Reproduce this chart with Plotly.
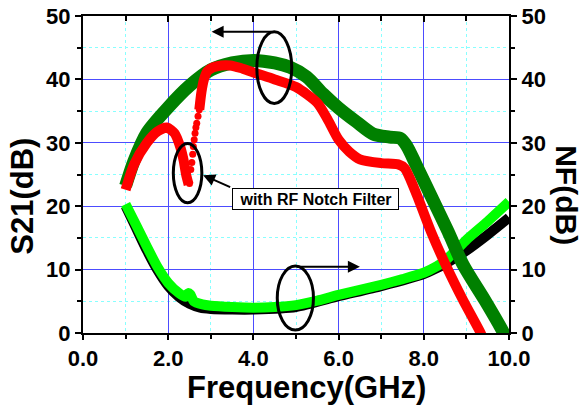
import plotly.graph_objects as go

# ---- data ----
# S21 without notch filter (dark green)
s21_freq = [1.0, 1.2, 1.5, 2.0, 2.5, 3.0, 3.5, 4.0, 4.5, 4.86, 5.25, 5.64, 6.0, 6.42, 6.81,
            7.2, 7.45, 7.6, 7.8, 8.0, 8.2, 8.57, 8.92, 9.43, 9.86, 9.95]
s21_db = [23.2, 27.2, 31.6, 35.6, 39.0, 41.5, 42.6, 43.0, 42.6, 41.9, 40.4, 37.7, 35.5, 33.3, 31.4,
          30.9, 30.7, 29.5, 26.8, 24.0, 21.2, 16.0, 10.8, 5.2, 0.2, -1.0]

# S21 with RF notch filter (red), left branch, notch dots, right branch
notch_freq_a = [1.0, 1.2, 1.5, 1.75, 1.97, 2.15, 2.28, 2.36, 2.42, 2.48]
notch_db_a = [22.6, 26.6, 30.0, 31.8, 32.4, 31.5, 29.4, 27.3, 25.0, 23.4]
notch_freq_dots = [2.50, 2.53, 2.555, 2.575, 2.59, 2.61, 2.63, 2.65, 2.67, 2.70, 2.73]
notch_db_dots = [23.6, 25.8, 26.9, 28.2, 29.4, 30.5, 31.5, 32.4, 33.1, 34.2, 35.2]
notch_freq_b = [2.73, 2.78, 2.84, 2.92, 3.05, 3.25, 3.45, 3.7, 4.0, 4.5, 5.0, 5.5, 5.75, 6.0,
                6.25, 6.5, 7.0, 7.4, 7.55, 7.7, 7.87, 8.18, 8.53, 8.92, 9.32, 9.4]
notch_db_b = [35.2, 38.0, 40.0, 41.3, 41.9, 42.2, 42.2, 41.8, 41.1, 40.0, 38.8, 36.3, 33.6, 30.5,
              28.6, 27.4, 26.8, 26.6, 26.0, 24.0, 21.2, 15.8, 10.5, 5.2, 0.2, -1.0]

# NF without notch filter (black)
nf_freq = [1.0, 1.25, 1.5, 1.75, 2.0, 2.25, 2.5, 2.75, 3.0, 3.5, 4.0, 5.0, 6.0, 7.0, 8.0,
           8.3, 8.5, 9.0, 9.5, 10.0]
nf_db = [20.0, 16.5, 13.0, 9.9, 7.4, 5.7, 4.6, 4.0, 3.8, 3.7, 3.7, 4.1, 5.8, 7.4, 9.3,
         10.2, 10.9, 13.0, 15.5, 18.2]

# NF with notch filter (light green)
nf_notch_freq = [1.0, 1.25, 1.5, 1.75, 2.0, 2.25, 2.4, 2.47, 2.52, 2.6, 2.8, 3.0, 3.5, 4.0,
                 4.5, 5.0, 5.5, 6.0, 6.5, 7.0, 7.5, 8.0, 8.3, 8.5, 8.75, 9.0, 9.5, 10.0]
nf_notch_db = [20.3, 17.0, 13.6, 10.4, 7.9, 6.3, 5.7, 6.3, 6.1, 5.0, 4.5, 4.3, 4.1, 4.0,
               4.1, 4.4, 5.1, 6.0, 6.8, 7.6, 8.5, 9.5, 10.5, 11.4, 13.0, 14.7, 17.6, 20.7]

FONT = "Arial, Liberation Sans, sans-serif"
MAJ_GRID = "#4c4cff"
MIN_GRID = "#88ffff"

fig = go.Figure()

# invisible trace so the top/right frame axes exist
fig.add_trace(go.Scatter(x=[None], y=[None], xaxis="x2", yaxis="y2", mode="lines",
                         hoverinfo="skip", showlegend=False))

fig.add_trace(go.Scatter(x=nf_freq, y=nf_db, mode="lines",
                         line=dict(color="black", width=10, shape="spline", smoothing=0.6)))
fig.add_trace(go.Scatter(x=nf_notch_freq, y=nf_notch_db, mode="lines",
                         line=dict(color="#00ff00", width=10, shape="spline", smoothing=0.6)))
fig.add_trace(go.Scatter(x=s21_freq, y=s21_db, mode="lines",
                         line=dict(color="#008000", width=13, shape="spline", smoothing=0.8)))
fig.add_trace(go.Scatter(x=notch_freq_a, y=notch_db_a, mode="lines",
                         line=dict(color="#ff0000", width=10, shape="spline", smoothing=0.7)))
fig.add_trace(go.Scatter(x=notch_freq_dots, y=notch_db_dots, mode="markers",
                         marker=dict(color="#ff0000", size=7, line=dict(width=0))))
fig.add_trace(go.Scatter(x=notch_freq_b, y=notch_db_b, mode="lines",
                         line=dict(color="#ff0000", width=10, shape="spline", smoothing=0.7)))

tickfont = dict(family=FONT, size=22, color="black", weight="bold")

fig.update_layout(
    width=584, height=410,
    margin=dict(l=83, r=75, t=16, b=77, autoexpand=False),
    paper_bgcolor="white", plot_bgcolor="white",
    showlegend=False,
    xaxis=dict(range=[0, 10], tickmode="linear", tick0=0, dtick=2, tickformat=".1f",
               ticks="outside", ticklen=5, tickwidth=2, tickcolor="black",
               showline=True, linewidth=2, linecolor="black", automargin=False,
               showgrid=True, gridcolor=MAJ_GRID, gridwidth=1, zeroline=False,
               tickfont=tickfont,
               minor=dict(dtick=1, ticks="outside", ticklen=4, tickwidth=2, tickcolor="black",
                          showgrid=True, gridcolor=MIN_GRID, griddash="dot", gridwidth=1)),
    xaxis2=dict(range=[0, 10], overlaying="x", side="top",
                tickmode="linear", tick0=0, dtick=2,
                ticks="inside", ticklen=6, tickwidth=2, tickcolor="black",
                showticklabels=False, showline=True, linewidth=2, linecolor="black",
                showgrid=False, zeroline=False, automargin=False,
                minor=dict(dtick=1, ticks="inside", ticklen=5, tickwidth=2, tickcolor="black",
                           showgrid=False)),
    yaxis=dict(range=[0, 50], tickmode="linear", tick0=0, dtick=10,
               ticks="outside", ticklen=6, tickwidth=2, tickcolor="black",
               showline=True, linewidth=2, linecolor="black", automargin=False,
               showgrid=True, gridcolor=MAJ_GRID, gridwidth=1, zeroline=False,
               tickfont=tickfont,
               minor=dict(dtick=5, ticks="outside", ticklen=4, tickwidth=2, tickcolor="black",
                          showgrid=True, gridcolor=MIN_GRID, griddash="dot", gridwidth=1)),
    yaxis2=dict(range=[0, 50], overlaying="y", side="right",
                tickmode="linear", tick0=0, dtick=10,
                ticks="outside", ticklen=6, tickwidth=2, tickcolor="black",
                showline=True, linewidth=2, linecolor="black", automargin=False,
                showgrid=False, zeroline=False, tickfont=tickfont,
                minor=dict(dtick=5, ticks="outside", ticklen=4, tickwidth=2, tickcolor="black",
                           showgrid=False)),
)

# axis titles
fig.add_annotation(text="<b>Frequency(GHz)</b>", xref="paper", yref="paper",
                   x=0.525, y=-0.173, xanchor="center", yanchor="middle", showarrow=False,
                   font=dict(family=FONT, size=31, color="black"))
fig.add_annotation(text="<b>S21(dB)</b>", xref="paper", yref="paper",
                   x=-0.144, y=0.432, xanchor="center", yanchor="middle", showarrow=False,
                   textangle=-90, font=dict(family=FONT, size=31, color="black"))
fig.add_annotation(text="<b>NF(dB)</b>", xref="paper", yref="paper",
                   x=1.136, y=0.435, xanchor="center", yanchor="middle", showarrow=False,
                   textangle=90, font=dict(family=FONT, size=30, color="black"))

# ellipses
ell = dict(type="circle", xref="x", yref="y", line=dict(color="black", width=3),
           fillcolor="rgba(0,0,0,0)", layer="above")
fig.add_shape(**ell, x0=4.08, x1=4.90, y0=36.2, y1=47.5)
fig.add_shape(**ell, x0=2.12, x1=2.79, y0=20.55, y1=29.9)
fig.add_shape(**ell, x0=4.56, x1=5.41, y0=0.47, y1=10.57)

# arrows
arr = dict(xref="x", yref="y", axref="x", ayref="y", text="", showarrow=True,
           arrowhead=2, arrowsize=1.2, arrowwidth=2, arrowcolor="black")
fig.add_annotation(**arr, x=3.02, y=47.5, ax=4.46, ay=47.5)
fig.add_annotation(**arr, x=6.5, y=10.46, ax=4.98, ay=10.46)
fig.add_annotation(**arr, x=2.82, y=24.9, ax=3.49, ay=22.9)

# label box
fig.add_annotation(text="<b>with RF Notch Filter</b>", xref="x", yref="y",
                   x=5.46, y=21.1, xanchor="center", yanchor="middle", showarrow=False,
                   width=163, height=18, bgcolor="white", bordercolor="black", borderwidth=1,
                   borderpad=1, font=dict(family=FONT, size=16, color="black"))

fig.write_html("out.html", config={"displayModeBar": False},
               post_script="document.body.style.margin='0px';")
